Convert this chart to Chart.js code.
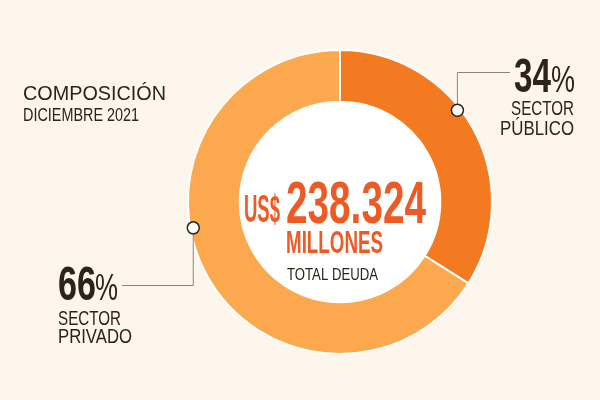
<!DOCTYPE html>
<html>
<head>
<meta charset="utf-8">
<script src="https://cdn.jsdelivr.net/npm/chart.js@4/dist/chart.umd.min.js"></script>
<style>
  html, body { margin: 0; padding: 0; background: #FDF6EC; }
  #wrap { width: 600px; height: 400px; position: relative; }
</style>
</head>
<body>
<div id="wrap"><canvas id="c" width="600" height="400"></canvas></div>
<script>
const categories = ['SECTOR PÚBLICO', 'SECTOR PRIVADO'];
const shares = [34, 66];
const sliceColors = ['#F47A22', '#FBA84F'];
const titleText = 'COMPOSICIÓN';
const subtitleText = 'DICIEMBRE 2021';
const centerCurrency = 'US$';
const centerValue = '238.324';
const centerUnit = 'MILLONES';
const centerLabel = 'TOTAL DEUDA';

const DARK = '#2A2419';
const RED = '#EE5A24';
const FONT = '"Liberation Sans", Arial, sans-serif';

function fitText(ctx, text, x, y, align, font, width, color) {
  ctx.save();
  ctx.font = font;
  ctx.fillStyle = color;
  ctx.textBaseline = 'alphabetic';
  const w = ctx.measureText(text).width;
  const s = width / w;
  ctx.translate(x, y);
  ctx.scale(s, 1);
  ctx.textAlign = align;
  ctx.fillText(text, 0, 0);
  ctx.restore();
}

const decor = {
  id: 'decor',
  beforeDatasetsDraw(chart) {
    const ctx = chart.ctx;
    const arc = chart.getDatasetMeta(0).data[0];
    const { x, y, innerRadius } = arc.getProps(['x', 'y', 'innerRadius'], true);
    ctx.save();
    ctx.beginPath();
    ctx.arc(x, y, innerRadius + 1, 0, Math.PI * 2);
    ctx.fillStyle = '#FFFFFF';
    ctx.fill();
    ctx.restore();
  },
  afterDatasetsDraw(chart) {
    const ctx = chart.ctx;
    const arc = chart.getDatasetMeta(0).data[0];
    const { x, y, outerRadius } = arc.getProps(['x', 'y', 'outerRadius'], true);
    const pt = (deg) => {
      const a = (deg - 90) * Math.PI / 180;
      return [x + Math.cos(a) * (outerRadius - 3), y + Math.sin(a) * (outerRadius - 3)];
    };
    const p1 = pt(52);
    const p2 = pt(260);

    ctx.save();
    ctx.strokeStyle = '#8A857E';
    ctx.lineWidth = 1;
    ctx.beginPath();
    ctx.moveTo(p1[0], p1[1]);
    ctx.lineTo(p1[0], 72.5);
    ctx.lineTo(510, 72.5);
    ctx.stroke();
    ctx.beginPath();
    ctx.moveTo(p2[0], p2[1]);
    ctx.lineTo(p2[0], 285.5);
    ctx.lineTo(122, 285.5);
    ctx.stroke();

    [p1, p2].forEach(p => {
      ctx.beginPath();
      ctx.arc(p[0], p[1], 6, 0, Math.PI * 2);
      ctx.fillStyle = '#FFFFFF';
      ctx.fill();
      ctx.lineWidth = 1.5;
      ctx.strokeStyle = '#2A2419';
      ctx.stroke();
    });
    ctx.restore();

    // Title
    fitText(ctx, titleText, 23, 100, 'left', '400 21px ' + FONT, 143, DARK);
    fitText(ctx, subtitleText, 23, 121, 'left', '400 18px ' + FONT, 116, DARK);

    // Public sector label
    fitText(ctx, shares[0] + '', 551, 92, 'right', '700 49px ' + FONT, 37, DARK);
    fitText(ctx, '%', 575, 92, 'right', '400 37px ' + FONT, 24, DARK);
    fitText(ctx, 'SECTOR', 574, 115, 'right', '400 21px ' + FONT, 63, DARK);
    fitText(ctx, 'PÚBLICO', 574, 135, 'right', '400 21px ' + FONT, 74, DARK);

    // Private sector label
    fitText(ctx, shares[1] + '', 58, 300, 'left', '700 49px ' + FONT, 38, DARK);
    fitText(ctx, '%', 95, 300, 'left', '400 37px ' + FONT, 23, DARK);
    fitText(ctx, 'SECTOR', 58, 325, 'left', '400 21px ' + FONT, 63, DARK);
    fitText(ctx, 'PRIVADO', 58, 343, 'left', '400 21px ' + FONT, 74, DARK);

    // Center
    fitText(ctx, centerCurrency, 244, 222, 'left', '700 38px ' + FONT, 36, RED);
    fitText(ctx, centerValue, 286, 223, 'left', '700 60px ' + FONT, 140, RED);
    fitText(ctx, centerUnit, 286, 253, 'left', '700 32px ' + FONT, 97, RED);
    fitText(ctx, centerLabel, 287, 280, 'left', '400 17px ' + FONT, 91, DARK);
  }
};

new Chart(document.getElementById('c'), {
  type: 'doughnut',
  data: {
    labels: categories,
    datasets: [{
      data: shares,
      backgroundColor: sliceColors,
      borderColor: '#FFFFFF',
      borderWidth: 2,
      hoverOffset: 0
    }]
  },
  options: {
    responsive: false,
    animation: false,
    cutout: '66%',
    layout: { padding: { top: 49, bottom: 45, left: 80, right: 0 } },
    plugins: {
      legend: { display: false },
      tooltip: { enabled: false },
      title: { display: false }
    }
  },
  plugins: [decor]
});
</script>
</body>
</html>
